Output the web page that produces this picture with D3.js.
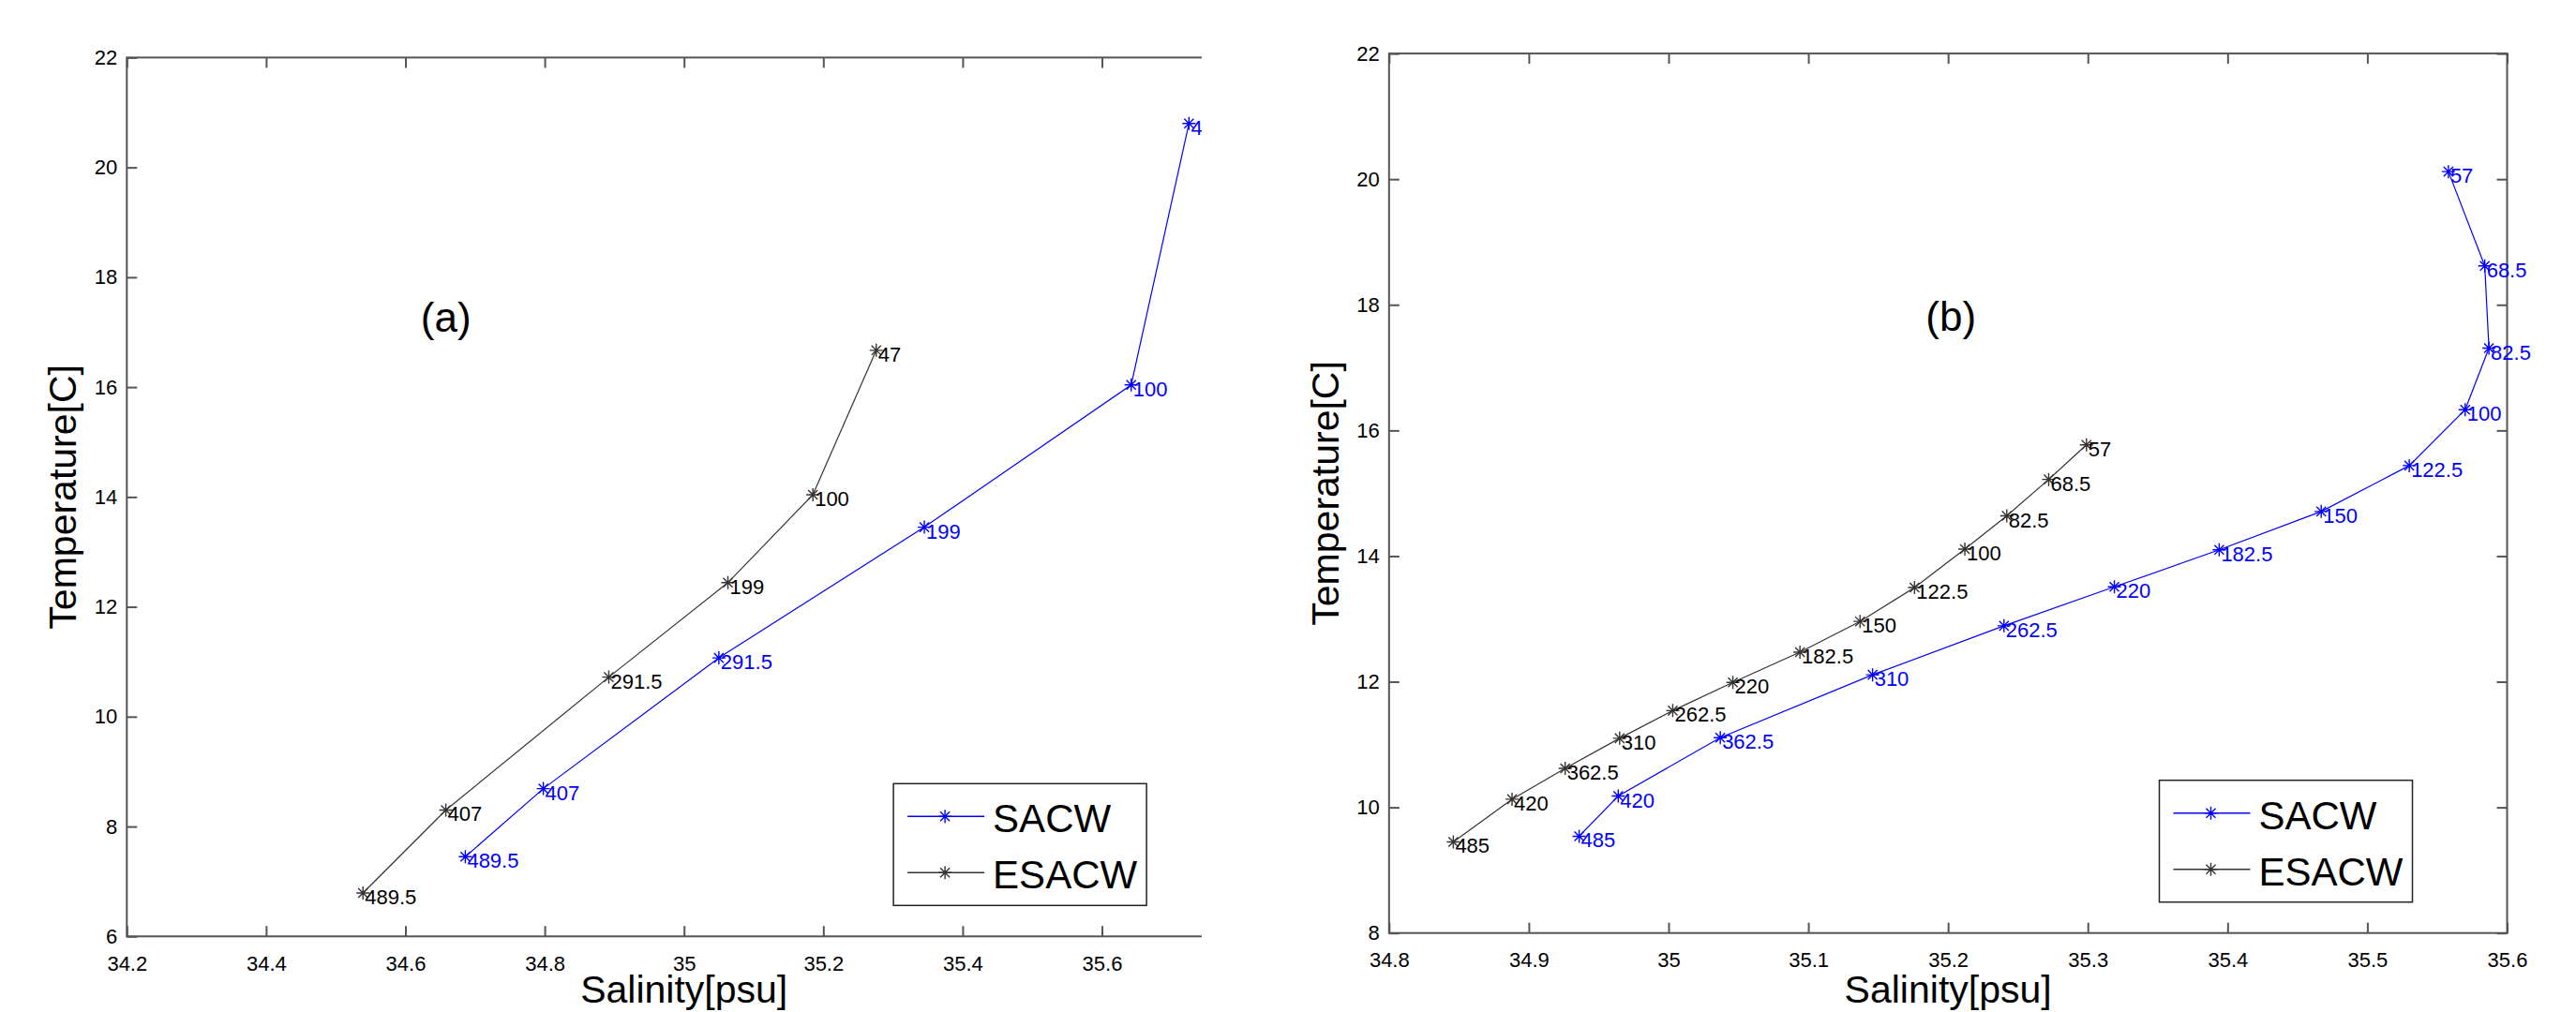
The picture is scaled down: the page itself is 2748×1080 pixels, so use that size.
<!DOCTYPE html>
<html>
<head>
<meta charset="utf-8">
<script src="https://cdn.jsdelivr.net/npm/d3@7"></script>
<style>
  body { margin: 0; background: #fff; }
  svg { display: block; font-family: "Liberation Sans", Arial, sans-serif; }
  .axis path { display: none; }
  .axis line { stroke: #555; stroke-width: 2; }
  .axis text { font-size: 22px; fill: #000; font-family: "Liberation Sans", Arial, sans-serif; }
</style>
</head>
<body>
<script>

// ---- data ----
var depthsA = ["47", "100", "199", "291.5", "407", "489.5"];
var sacwSalA  = [35.725, 35.642, 35.345, 35.050, 34.798, 34.686];
var sacwTempA = [20.80, 16.04, 13.45, 11.07, 8.69, 7.45];
var esacwSalA  = [35.276, 35.185, 35.063, 34.892, 34.658, 34.539];
var esacwTempA = [16.67, 14.04, 12.44, 10.72, 8.30, 6.79];

var depthsB = ["57", "68.5", "82.5", "100", "122.5", "150", "182.5", "220", "262.5", "310", "362.5", "420", "485"];
var sacwSalB  = [35.558, 35.584, 35.587, 35.570, 35.530, 35.467, 35.394, 35.319, 35.240, 35.146, 35.037, 34.964, 34.936];
var sacwTempB = [20.12, 18.62, 17.31, 16.33, 15.44, 14.71, 14.10, 13.51, 12.89, 12.11, 11.11, 10.18, 9.54];
var esacwSalB  = [35.299, 35.272, 35.242, 35.212, 35.176, 35.137, 35.094, 35.046, 35.003, 34.965, 34.926, 34.888, 34.846];
var esacwTempB = [15.77, 15.22, 14.64, 14.11, 13.50, 12.96, 12.47, 11.99, 11.54, 11.10, 10.62, 10.13, 9.45];

var xTicksA = [34.2, 34.4, 34.6, 34.8, 35, 35.2, 35.4, 35.6, 35.8];
var xTickLabelsA = ["34.2", "34.4", "34.6", "34.8", "35", "35.2", "35.4", "35.6", "35.8"];
var yTicksA = [6, 8, 10, 12, 14, 16, 18, 20, 22];

var xTicksB = [34.8, 34.9, 35, 35.1, 35.2, 35.3, 35.4, 35.5, 35.6];
var xTickLabelsB = ["34.8", "34.9", "35", "35.1", "35.2", "35.3", "35.4", "35.5", "35.6"];
var yTicksB = [8, 10, 12, 14, 16, 18, 20, 22];

var seriesNames = ["SACW", "ESACW"];
var seriesColors = ["#0000ff", "#333333"];
var labelColors = ["#0000ff", "#000000"];

var W = 2748, H = 1080;

var svg = d3.select("body").append("svg")
  .attr("width", W)
  .attr("height", H);

// asterisk marker like matlab '*'
function asterisk(r) {
  var d = r * 0.72;
  return "M" + (-r) + ",0H" + r + "M0," + (-r) + "V" + r +
    "M" + (-d) + "," + (-d) + "L" + d + "," + d +
    "M" + (-d) + "," + d + "L" + d + "," + (-d);
}

function drawPanel(opt) {

  var g = svg.append("g");
  if (opt.clipRight) {
    svg.append("clipPath").attr("id", opt.id + "-clip")
      .append("rect").attr("x", 0).attr("y", 0).attr("width", opt.clipRight).attr("height", H);
    g.attr("clip-path", "url(#" + opt.id + "-clip)");
  }

  var x = d3.scaleLinear().domain(opt.xDomain).range([opt.left, opt.right]);
  var y = d3.scaleLinear().domain(opt.yDomain).range([opt.bottom, opt.top]);

  var fmtX = function(d) { return opt.xLabels[opt.xTicks.indexOf(d)]; };

  g.append("g")
    .attr("class", "axis")
    .attr("transform", "translate(0," + opt.bottom + ")")
    .call(d3.axisBottom(x).tickValues(opt.xTicks).tickFormat(fmtX).tickSizeInner(-11).tickSizeOuter(0).tickPadding(21));

  g.append("g")
    .attr("class", "axis")
    .attr("transform", "translate(0," + opt.top + ")")
    .call(d3.axisTop(x).tickValues(opt.xTicks).tickFormat("").tickSizeInner(-11).tickSizeOuter(0));

  g.append("g")
    .attr("class", "axis")
    .attr("transform", "translate(" + opt.left + ",0)")
    .call(d3.axisLeft(y).tickValues(opt.yTicks).tickFormat(d3.format("d")).tickSizeInner(-11).tickSizeOuter(0).tickPadding(10));

  g.append("g")
    .attr("class", "axis")
    .attr("transform", "translate(" + opt.right + ",0)")
    .call(d3.axisRight(y).tickValues(opt.yTicks).tickFormat("").tickSizeInner(-11).tickSizeOuter(0));

  // box
  g.append("rect")
    .attr("x", opt.left)
    .attr("y", opt.top)
    .attr("width", opt.right - opt.left)
    .attr("height", opt.bottom - opt.top)
    .style("fill", "none")
    .style("stroke", "#555")
    .style("stroke-width", 2);

  var line = d3.line()
    .x(function(d) { return x(d.s); })
    .y(function(d) { return y(d.t); });

  opt.series.forEach(function(ser, i) {
    var pts = ser.sal.map(function(s, k) { return { s: s, t: ser.temp[k], lab: opt.depths[k] }; });

    g.append("path")
      .datum(pts)
      .attr("d", line)
      .style("fill", "none")
      .style("stroke", seriesColors[i])
      .style("stroke-width", 1.2);

    g.selectAll(".mk" + i)
      .data(pts)
      .enter().append("path")
      .attr("class", "mk" + i)
      .attr("transform", function(d) { return "translate(" + x(d.s) + "," + y(d.t) + ")"; })
      .attr("d", asterisk(7))
      .style("fill", "none")
      .style("stroke", seriesColors[i])
      .style("stroke-width", 1.4);

    g.selectAll(".lab" + i)
      .data(pts)
      .enter().append("text")
      .attr("class", "lab" + i)
      .attr("x", function(d) { return x(d.s) + 2; })
      .attr("y", function(d) { return y(d.t) + 12; })
      .style("font-size", "22px")
      .style("fill", labelColors[i])
      .text(function(d) { return d.lab; });
  });

  // panel letter
  g.append("text")
    .attr("x", x(opt.letterAt[0]))
    .attr("y", y(opt.letterAt[1]))
    .style("font-size", "44px")
    .text(opt.letter);

  // axis labels
  g.append("text")
    .attr("transform", "translate(" + (opt.left - 54) + "," + ((opt.top + opt.bottom) / 2) + ") rotate(-90)")
    .style("text-anchor", "middle")
    .style("font-size", "41px")
    .text("Temperature[C]");

  // reference has this label running off the bottom edge; keep it just inside
  g.append("text")
    .attr("x", (opt.left + opt.right) / 2)
    .attr("y", H - 10)
    .style("text-anchor", "middle")
    .style("font-size", "41px")
    .text("Salinity[psu]");

  // legend
  var lw = 270, lh = 130;
  var lx = opt.right - 101 - lw, ly = opt.bottom - 33 - lh;
  var legend = g.append("g").attr("transform", "translate(" + lx + "," + ly + ")");
  legend.append("rect")
    .attr("width", lw)
    .attr("height", lh)
    .style("fill", "#fff")
    .style("stroke", "#222")
    .style("stroke-width", 1.5);

  seriesNames.forEach(function(name, i) {
    var cy = 35 + i * 60;
    legend.append("line")
      .attr("x1", 15).attr("x2", 97)
      .attr("y1", cy).attr("y2", cy)
      .style("stroke", seriesColors[i])
      .style("stroke-width", 1.5);
    legend.append("path")
      .attr("transform", "translate(55," + cy + ")")
      .attr("d", asterisk(7))
      .style("fill", "none")
      .style("stroke", seriesColors[i])
      .style("stroke-width", 1.4);
    legend.append("text")
      .attr("x", 106)
      .attr("y", cy + 17)
      .style("font-size", "42px")
      .text(name);
  });
}

drawPanel({
  id: "pa",
  left: 135.3, right: 1324.1, top: 61.4, bottom: 999.3,
  clipRight: 1282,
  xDomain: [34.2, 35.8], yDomain: [6, 22],
  xTicks: xTicksA, xLabels: xTickLabelsA, yTicks: yTicksA,
  depths: depthsA,
  series: [{ sal: sacwSalA, temp: sacwTempA }, { sal: esacwSalA, temp: esacwTempA }],
  letter: "(a)", letterAt: [34.622, 17.0]
});

drawPanel({
  id: "pb",
  left: 1481.8, right: 2674.5, top: 57.1, bottom: 995.7,
  xDomain: [34.8, 35.6], yDomain: [8, 22],
  xTicks: xTicksB, xLabels: xTickLabelsB, yTicks: yTicksB,
  depths: depthsB,
  series: [{ sal: sacwSalB, temp: sacwTempB }, { sal: esacwSalB, temp: esacwTempB }],
  letter: "(b)", letterAt: [35.184, 17.58]
});

</script>
</body>
</html>
